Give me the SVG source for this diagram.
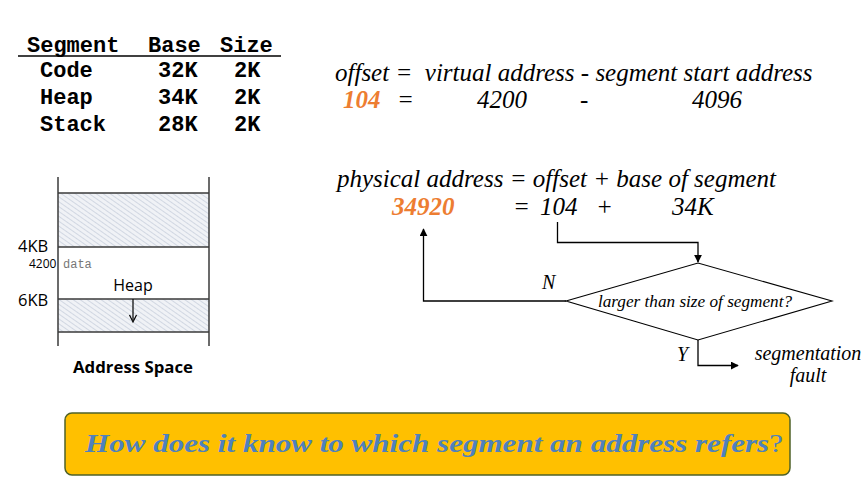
<svg xmlns="http://www.w3.org/2000/svg" width="868" height="485" viewBox="0 0 868 485">
<style>
.mono{font-family:"Liberation Mono","Courier New",monospace;font-weight:bold;font-size:22px;fill:#000}
.ti{font-family:"Liberation Serif","Times New Roman",serif;font-style:italic;fill:#000}
.big{font-size:25px}
.or{font-family:"Liberation Serif","Times New Roman",serif;font-style:italic;font-weight:bold;font-size:25px;fill:#ED7D31}
.sans{font-family:"Open Sans","Liberation Sans",Arial,sans-serif;fill:#000}
.ln{stroke:#000;stroke-width:1.3;fill:none}
.as{stroke:#3a3a3a;stroke-width:1.5;fill:none}
</style>
<defs>
<pattern id="hatch" width="4" height="4" patternUnits="userSpaceOnUse" patternTransform="rotate(-55)">
<rect width="4" height="4" fill="#f0f2f6"/>
<line x1="0" y1="0" x2="0" y2="4" stroke="#c9d1dd" stroke-width="1.6"/>
</pattern>
<marker id="arr" viewBox="0 0 10 10" refX="9" refY="5" markerWidth="8" markerHeight="8" markerUnits="userSpaceOnUse" orient="auto">
<path d="M0,0 L10,5 L0,10 z" fill="#000"/>
</marker>
</defs>

<g id="table">
<text class="mono" x="27" y="52">Segment</text>
<text class="mono" x="148" y="52">Base</text>
<text class="mono" x="220" y="52">Size</text>
<line x1="18" y1="56" x2="281" y2="56" stroke="#000" stroke-width="1.5"/>
<text class="mono" x="40" y="77">Code</text>
<text class="mono" x="158" y="77">32K</text>
<text class="mono" x="234" y="77">2K</text>
<text class="mono" x="40" y="104">Heap</text>
<text class="mono" x="158" y="104">34K</text>
<text class="mono" x="234" y="104">2K</text>
<text class="mono" x="40" y="131">Stack</text>
<text class="mono" x="158" y="131">28K</text>
<text class="mono" x="234" y="131">2K</text>
</g>

<g id="address-space">
<rect x="58" y="193" width="151" height="54" fill="url(#hatch)"/>
<rect x="58" y="299" width="151" height="33" fill="url(#hatch)"/>
<line class="as" x1="58" y1="177" x2="58" y2="346"/>
<line class="as" x1="209" y1="177" x2="209" y2="346"/>
<line class="as" x1="58" y1="193" x2="209" y2="193"/>
<line class="as" x1="58" y1="247" x2="209" y2="247"/>
<line class="as" x1="58" y1="299" x2="209" y2="299"/>
<line class="as" x1="58" y1="332" x2="209" y2="332"/>
<line x1="133" y1="299" x2="133" y2="320" stroke="#000" stroke-width="1.2"/>
<path d="M129.5,315 L133,322 L136.5,315" fill="none" stroke="#000" stroke-width="1.2"/>
<text class="sans" x="18" y="252" font-size="16.5">4KB</text>
<text class="sans" x="18" y="306" font-size="16.5">6KB</text>
<text class="sans" x="29" y="268" font-size="12" fill="#333">4200</text>
<text x="63" y="268" font-family="Liberation Mono,monospace" font-size="12" fill="#777">data</text>
<text class="sans" x="133" y="291" font-size="16" text-anchor="middle">Heap</text>
<text class="sans" x="133" y="373" font-size="16.8" font-weight="bold" text-anchor="middle">Address Space</text>
</g>

<g id="offset-eq">
<text class="ti big" x="335" y="81" xml:space="preserve">offset =  virtual address - segment start address</text>
<text class="or" x="343" y="108">104</text>
<text class="ti big" x="397" y="108">=</text>
<text class="ti big" x="477" y="108">4200</text>
<text class="ti big" x="580" y="108">-</text>
<text class="ti big" x="692" y="108">4096</text>
</g>

<g id="physical-eq">
<text class="ti big" x="337" y="187">physical address = offset + base of segment</text>
<text class="or" x="392" y="215">34920</text>
<text class="ti big" x="513" y="215">=</text>
<text class="ti big" x="540" y="215">104</text>
<text class="ti big" x="596" y="215">+</text>
<text class="ti big" x="672" y="215">34K</text>
</g>

<g id="decision">
<polygon points="566,301 698,263 832,301 698,340" fill="#fff" stroke="#000" stroke-width="1.1"/>
<text class="ti" x="695" y="307" font-size="17.2" text-anchor="middle">larger than size of segment?</text>
</g>

<g id="segfault">
<text class="ti" x="808" y="360" font-size="20" text-anchor="middle">segmentation</text>
<text class="ti" x="808" y="382" font-size="20" text-anchor="middle">fault</text>
</g>

<g id="connectors">
<polyline class="ln" points="557.5,222 557.5,242.5 698,242.5 698,262" marker-end="url(#arr)"/>
<polyline class="ln" points="566,301 423.5,301 423.5,229" marker-end="url(#arr)"/>
<polyline class="ln" points="698,340 698,365.5 738,365.5" marker-end="url(#arr)"/>
<text class="ti" x="542" y="289" font-size="20">N</text>
<text class="ti" x="677" y="361" font-size="20">Y</text>
</g>

<g id="question">
<rect x="65" y="413" width="725" height="62" rx="7" fill="#FFC000" stroke="#4F6228" stroke-width="1.5"/>
<text x="85" y="452" font-family="'Liberation Serif','DejaVu Serif',serif" font-style="italic" font-weight="bold" font-size="25" fill="#4F81BD" textLength="698" lengthAdjust="spacingAndGlyphs">How does it know to which segment an address refers<tspan font-weight="normal" font-style="normal">?</tspan></text>
</g>
</svg>
